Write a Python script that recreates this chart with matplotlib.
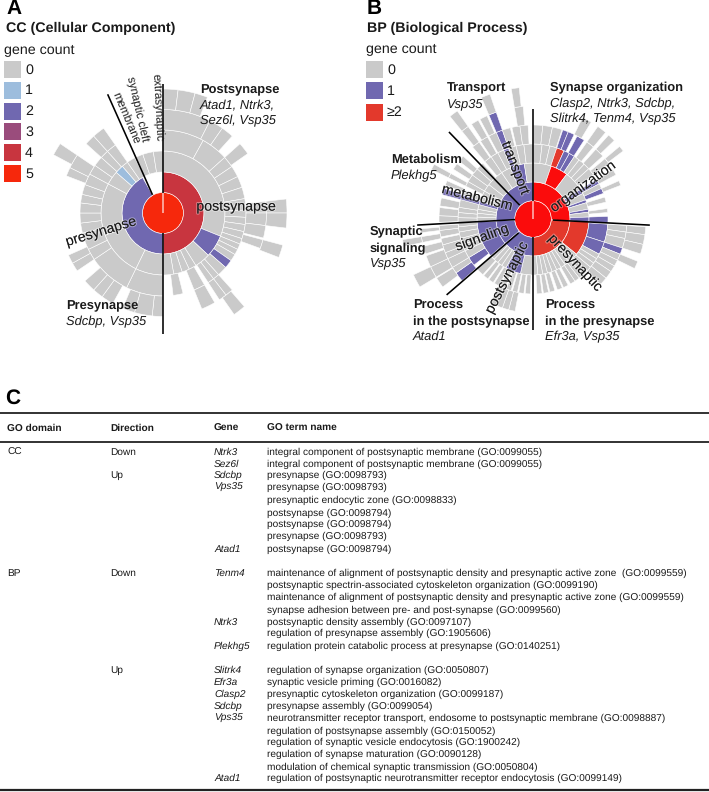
import numpy as np
import matplotlib
matplotlib.use("Agg")
import matplotlib.pyplot as plt
from matplotlib.patches import Rectangle
import matplotlib.patheffects as pe

plt.rcParams['font.family'] = ['Liberation Sans', 'DejaVu Sans']
plt.rcParams['text.hinting'] = 'no_hinting'

# ---------- data: sunburst cells as (start deg, end deg, gene count) clockwise from north
cc_center = [(0, 360, 5)]
cc_ring1 = [(0, 180, 4), (180, 330, 2)]
cc_ring2 = [(0, 112, 0), (112, 133, 2), (133, 148, 0), (148, 155, 0), (155, 162, 0), (162, 170, 0), (170, 180, 0),
            (180, 206, 0), (206, 249, 0), (249, 298, 0), (298, 311, 0), (311, 319, 1), (319, 325, 0), (325, 333, 0),
            (333, 341, 0), (341, 351, 0), (351, 360, 0)]
cc_ring3 = [(0, 29, 0), (29, 48, 0), (48, 56, 0), (56, 64, 0), (64, 72, 0), (72, 80, 0), (80, 88, 0), (88, 93, 0),
            (93, 98, 0), (98, 103, 0), (103, 108, 0), (108, 112, 0), (112, 116, 0), (116, 120, 0), (120, 125, 0),
            (125, 131, 2), (131, 138, 0), (138, 142.5, 0), (142.5, 147, 0), (150, 158, 0), (166, 173, 0),
            (180, 206, 0), (206, 236, 0), (236, 244, 0), (244, 256, 0), (256, 263, 0), (263, 270, 0), (270, 277, 0),
            (277, 283, 0), (283, 290, 0), (290, 298, 0), (298, 305, 0), (305, 312, 0), (312, 318, 0), (318, 325, 0)]
cc_ring4 = [(0, 27, 0), (27, 35, 0), (35, 42, 0), (48, 55, 0), (83.5, 90, 0), (90, 97, 0), (97, 104, 0), (105, 110, 0),
            (138, 142.5, 0), (142.5, 147, 0), (150, 158, 0), (180, 186, 0), (186, 196, 0), (196, 203, 0), (209, 216, 0),
            (216, 222, 0), (222, 229, 0), (236, 241, 0), (241, 246, 0), (291, 296, 0), (296, 304, 0), (312, 318, 0),
            (318, 325, 0)]
cc_ring5 = [(0, 7, 0), (7, 15, 0), (15, 21, 0), (83.5, 90, 0), (90, 97, 0), (105, 111, 0), (139, 145, 0), (298, 304, 0)]
cc_rings = [cc_center, cc_ring1, cc_ring2, cc_ring3, cc_ring4, cc_ring5]

bp_center = [(0, 360, 3)]
bp_ring1 = [(0, 93, 3), (93, 180, 2), (180, 229, 1), (229, 267, 1), (267, 316, 1), (316, 360, 1)]
bp_ring2 = [(0, 19, 0), (19, 37, 3), (37, 58, 0), (58, 63, 1), (63, 70, 0), (70, 73, 1), (73, 80, 0), (80, 83, 1),
            (83, 88, 0), (88, 93, 1), (93, 129, 2), (129, 135, 0), (135, 140, 0), (140, 145, 0), (145, 150, 0),
            (150, 155, 0), (155, 160, 0), (160, 165, 0), (165, 170, 0), (170, 175, 0), (175, 180, 0), (180, 193, 0),
            (193, 209, 1), (209, 214, 0), (214, 219, 0), (219, 224, 0), (224, 229, 0), (229, 267, 1), (267, 272, 0),
            (272, 276, 0), (276, 280, 0), (280, 285, 0), (285, 289, 1), (289, 294, 0), (294, 300, 0), (300, 308, 0),
            (308, 316, 0), (316, 326, 0), (326, 336, 0), (336, 351, 1), (351, 360, 0)]
bp_ring3 = [(0, 7, 0), (7, 13, 0), (13, 18.5, 0), (18.5, 24.5, 2), (24.5, 29, 1), (29, 33.5, 1), (33.5, 38, 0),
            (38, 43, 0), (43, 48, 0), (48, 54, 0), (58, 62, 1), (62, 66, 0), (66, 70, 1), (73, 77, 0), (82, 85, 0),
            (88, 93, 1), (94, 108, 1), (108, 118, 1), (118, 122, 0), (122, 126, 0), (126, 130, 0), (130, 134, 0),
            (134, 138, 0), (138, 142, 0), (142, 146, 0), (146, 150, 0), (152, 156, 0), (157, 161, 0), (163, 167, 0),
            (168, 172, 0), (173, 177, 0), (182, 186, 0), (187, 191, 0), (192, 196, 0), (197, 201, 0), (202, 206, 0),
            (207, 211, 0), (212, 216, 0), (217, 221, 0), (222, 229, 0), (232, 239, 1), (239, 245, 0), (245, 250, 0),
            (250, 255, 0), (255, 260, 0), (260, 264, 0), (264, 267, 0), (267, 271, 0), (271, 275, 0), (275, 279, 0),
            (279, 285, 0), (285, 289, 1), (289, 293, 0), (296, 300, 0), (300, 306, 0), (306, 312, 0), (312, 318, 0),
            (320, 326, 0), (326, 332, 0), (332, 337, 0), (337, 341, 1), (341, 347, 0), (347, 353, 0), (353, 360, 0)]
bp_ring4 = [(0, 6, 0), (6, 12, 0), (12, 18, 0), (18.5, 22, 1), (22, 26, 1), (28, 33, 1), (35, 40, 0), (42, 48, 0),
            (50, 54, 0), (58, 62, 0), (66, 69, 0), (94, 98, 0), (98, 102, 0), (102, 108, 0), (108, 112, 1), (112, 116, 0),
            (116, 120, 0), (120, 124, 0), (124, 129, 0), (129, 134, 0), (191, 195, 0), (195, 199, 0), (199, 203, 0),
            (203, 207, 0), (229, 235, 1), (235, 239, 0), (239, 245, 0), (245, 249, 0), (249, 254, 0), (254, 258, 0),
            (259, 263, 0), (263, 266, 0), (268, 272, 0), (272, 277, 0), (278, 283, 0), (285, 289, 1), (291, 294, 0),
            (296, 299, 0), (302, 306, 0), (308, 312, 0), (320, 325, 0), (326, 331, 0), (332, 337, 0), (337, 341, 1),
            (341, 346, 0), (347, 352, 0), (352, 357, 0)]
bp_ring5 = [(26, 31, 0), (35, 40, 0), (42, 46, 0), (50, 53, 0), (94, 98, 0), (98, 103, 0), (103, 108, 0), (112, 116, 0),
            (233, 238.5, 0), (239, 245, 0), (245, 251, 0), (252, 256, 0), (258, 261, 0), (263, 265, 0), (296, 299, 0),
            (321, 325, 0), (327, 331, 0), (332, 336, 0), (337, 341, 1), (350.5, 355, 0)]
bp_ring6 = [(239, 245, 0), (258, 261, 0), (321, 325, 0), (337, 341, 0), (350.5, 354, 0)]
bp_rings = [bp_center, bp_ring1, bp_ring2, bp_ring3, bp_ring4, bp_ring5, bp_ring6]

cc_legend_labels = ['0', '1', '2', '3', '4', '5']
bp_legend_labels = ['0', '1', '≥2']

table_domain = ['CC', 'BP']
table_direction = ['Down', 'Up', 'Down', 'Up']
table_genes = ['Ntrk3', 'Sez6l', 'Sdcbp', 'Vps35', 'Atad1', 'Tenm4', 'Ntrk3', 'Plekhg5', 'Slitrk4', 'Efr3a', 'Clasp2',
               'Sdcbp', 'Vps35', 'Atad1']
table_terms = [
    'integral component of postsynaptic membrane (GO:0099055)',
    'integral component of postsynaptic membrane (GO:0099055)',
    'presynapse (GO:0098793)',
    'presynapse (GO:0098793)',
    'presynaptic endocytic zone (GO:0098833)',
    'postsynapse (GO:0098794)',
    'postsynapse (GO:0098794)',
    'presynapse (GO:0098793)',
    'postsynapse (GO:0098794)',
    'maintenance of alignment of postsynaptic density and presynaptic active zone  (GO:0099559)',
    'postsynaptic spectrin-associated cytoskeleton organization (GO:0099190)',
    'maintenance of alignment of postsynaptic density and presynaptic active zone (GO:0099559)',
    'synapse adhesion between pre- and post-synapse (GO:0099560)',
    'postsynaptic density assembly (GO:0097107)',
    'regulation of presynapse assembly (GO:1905606)',
    'regulation protein catabolic process at presynapse (GO:0140251)',
    'regulation of synapse organization (GO:0050807)',
    'synaptic vesicle priming (GO:0016082)',
    'presynaptic cytoskeleton organization (GO:0099187)',
    'presynapse assembly (GO:0099054)',
    'neurotransmitter receptor transport, endosome to postsynaptic membrane (GO:0098887)',
    'regulation of postsynapse assembly (GO:0150052)',
    'regulation of synaptic vesicle endocytosis (GO:1900242)',
    'regulation of synapse maturation (GO:0090128)',
    'modulation of chemical synaptic transmission (GO:0050804)',
    'regulation of postsynaptic neurotransmitter receptor endocytosis (GO:0099149)',
]

# ---------- styles and layout (pixels of the 709x792 picture)
W, H = 709, 792
CC_COL = {0: '#cacaca', 1: '#9dbddd', 2: '#7068b0', 3: '#9a4c7c', 4: '#c8353f', 5: '#f6280c'}
BP_COL = {0: '#cacaca', 1: '#7068b0', 2: '#e3392c', 3: '#fb0c0c'}
CC_R = [0, 20.5, 41, 62, 83, 103.5, 124]
BP_R = [0, 18.3, 37, 56, 75, 94, 113, 132]
# separators: (theta inner, r inner, theta outer, r outer)
cc_lines = [(0, 20, 0, 129), (180, 20, 180, 121), (330, 21, 335, 131)]
bp_lines = [(0, 18, 0, 110), (180, 18, 180, 111), (93, 20, 93, 117), (226, 20, 228.7, 115),
            (268, 18, 267, 116), (316, 19, 316, 121)]
TABLE_SIZE = 7.25

fig = plt.figure(figsize=(W / 100, H / 100), dpi=100, facecolor='white')


def sunburst(cx, cy, rings, radii, colours, lines):
    Rm = 140
    ax = fig.add_axes([(cx - Rm) / W, 1 - (cy + Rm) / H, 2 * Rm / W, 2 * Rm / H], projection='polar')
    ax.set_theta_zero_location('N')
    ax.set_theta_direction(-1)
    ax.set_rlim(0, Rm)
    ax.axis('off')
    for i, ring in enumerate(rings):
        s = np.radians([c[0] for c in ring])
        e = np.radians([c[1] for c in ring])
        ax.bar((s + e) / 2, radii[i + 1] - radii[i], width=e - s, bottom=radii[i],
               color=[colours[c[2]] for c in ring], edgecolor='white', linewidth=0.4, zorder=2)
    for t0, r0, t1, r1 in lines:
        ax.plot(np.radians([t0, t1]), [r0, r1], color='black', lw=1.15, zorder=3, solid_capstyle='butt')
    return ax


sunburst(163, 213, cc_rings, CC_R, CC_COL, cc_lines)
sunburst(533, 219, bp_rings, BP_R, BP_COL, bp_lines)

# overlay in picture pixels for text, legends and table
ov = fig.add_axes([0, 0, 1, 1], facecolor='none')
ov.set_xlim(0, W)
ov.set_ylim(H, 0)
ov.axis('off')


def T(x, y, s, size=9.3, weight='normal', style='normal', rot=0, ha='left', halo=False):
    t = ov.text(x, y, s, fontsize=size, fontweight=weight, fontstyle=style, rotation=rot, ha=ha, va='center',
                rotation_mode='anchor', color='#1a1a1a' if size < 13 else 'black')
    if halo:
        t.set_path_effects([pe.withStroke(linewidth=1.6, foreground=(1, 1, 1, 0.35))])
    return t


# panel letters and titles
T(6, 9, 'A', 15, 'bold')
T(367, 9, 'B', 15, 'bold')
T(5, 398, 'C', 15, 'bold')
T(6, 28, 'CC (Cellular Component)', 10.3, 'bold')
T(367, 28, 'BP (Biological Process)', 10.3, 'bold')
T(4, 49, 'gene count', 10.3)
T(366, 48, 'gene count', 10.3)

# legends
for i, lab in enumerate(cc_legend_labels):
    y = 61 + i * 20.8
    ov.add_patch(Rectangle((4, y), 17, 17, facecolor=CC_COL[i], edgecolor='none'))
    T(25, y + 9, lab, 10.3)
bp_legend_cols = [BP_COL[0], BP_COL[1], BP_COL[2]]
for i, lab in enumerate(bp_legend_labels):
    y = 61 + i * 21.3
    ov.add_patch(Rectangle((366, y), 17, 17, facecolor=bp_legend_cols[i], edgecolor='none'))
    T(387, y + 9, lab, 10.3)

# labels on the sunbursts
T(236, 207, 'postsynapse', 10.2, ha='center', halo=True)
T(101, 232, 'presynapse', 10.2, rot=17, ha='center', halo=True)
T(157, 108, 'extrasynaptic', 8.3, rot=-87, ha='center')
T(137, 109, 'synaptic cleft', 8.3, rot=-77, ha='center')
T(126, 118, 'membrane', 8.3, rot=-67, ha='center')
T(515, 168, 'transport', 10.2, rot=-69, ha='center', halo=True)
T(583, 187, 'organization', 10.2, rot=36, ha='center', halo=True)
T(477, 198, 'metabolism', 10.2, rot=-14, ha='center', halo=True)
T(482, 238, 'signaling', 10.2, rot=20, ha='center', halo=True)
T(507, 278, 'postsynaptic', 10.2, rot=63, ha='center', halo=True)
T(575, 263, 'presynaptic', 10.2, rot=-47, ha='center', halo=True)

# callouts
T(200, 90, 'Postsynapse', weight='bold')
T(200, 106, 'Atad1, Ntrk3,', style='italic')
T(200, 121, 'Sez6l, Vsp35', style='italic')
T(66, 306, 'Presynapse', weight='bold')
T(66, 322, 'Sdcbp, Vsp35', style='italic')
T(447, 88, 'Transport', weight='bold')
T(447, 104, 'Vsp35', style='italic')
T(550, 88, 'Synapse organization', weight='bold')
T(550, 104, 'Clasp2, Ntrk3, Sdcbp,', style='italic')
T(550, 119, 'Slitrk4, Tenm4, Vsp35', style='italic')
T(391, 160, 'Metabolism', weight='bold')
T(391, 176, 'Plekhg5', style='italic')
T(370, 232, 'Synaptic', weight='bold')
T(370, 249, 'signaling', weight='bold')
T(370, 263, 'Vsp35', style='italic')
T(413, 306, 'Process', weight='bold')
T(413, 322, 'in the postsynapse', weight='bold')
T(413, 337, 'Atad1', style='italic')
T(545, 306, 'Process', weight='bold')
T(545, 322, 'in the presynapse', weight='bold')
T(545, 337, 'Efr3a, Vsp35', style='italic')

# table
for y, lw in [(413, 1.3), (441.5, 1.3), (790, 1.6)]:
    ov.plot([0, W], [y, y], color='#222222', lw=lw, solid_capstyle='butt')
for x, s in zip([7, 110, 214, 267], ['GO domain', 'Direction', 'Gene', 'GO term name']):
    T(x, 428, s, TABLE_SIZE, 'bold')
for y, s in zip([452, 573], table_domain):
    T(7, y, s, TABLE_SIZE)
for y, s in zip([452, 475, 573, 670], table_direction):
    T(110, y, s, TABLE_SIZE)
gene_y = [452, 464, 475, 487, 549, 573, 622, 646, 670, 682, 694, 706, 718, 778]
for y, s in zip(gene_y, table_genes):
    T(214, y, s, TABLE_SIZE, style='italic')
term_y = [452, 464, 475, 487, 500, 513, 524, 536, 549, 573, 585, 597, 610, 622, 633, 646, 670, 682, 694, 706, 718,
          731, 742, 754, 767, 778]
for y, s in zip(term_y, table_terms):
    T(267, y, s, TABLE_SIZE)

fig.savefig('out.png', dpi=100, facecolor='white')
